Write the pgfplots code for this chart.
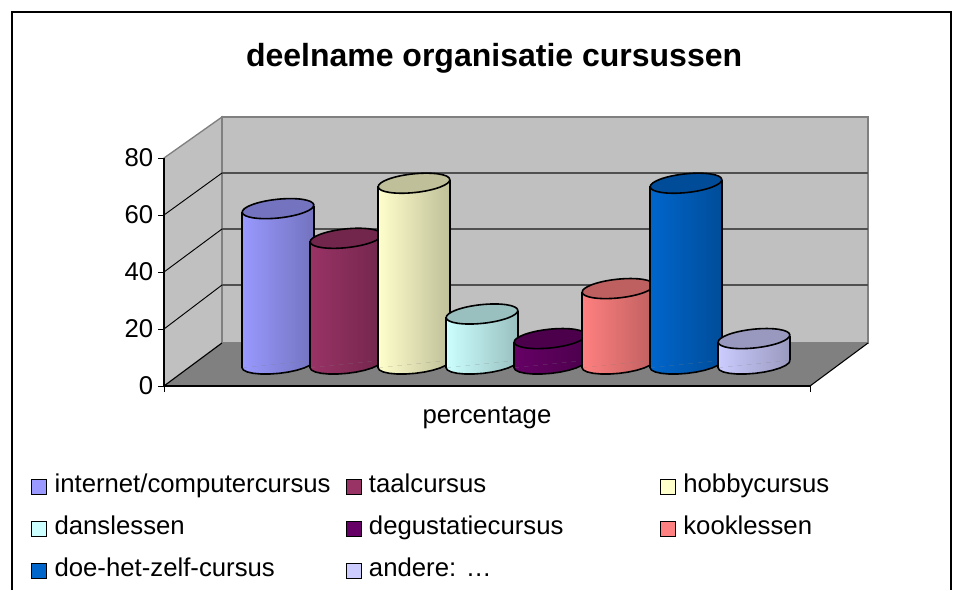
\documentclass[border=0pt]{standalone}
\usepackage{pgfplots}
\pgfplotsset{compat=1.18}
\usepackage{pgfplotstable}
\usepackage{fontspec}
\setmainfont{Liberation Sans}
\definecolor{c1}{HTML}{9999FF}
\definecolor{c2}{HTML}{993366}
\definecolor{c3}{HTML}{FFFFCC}
\definecolor{c4}{HTML}{CCFFFF}
\definecolor{c5}{HTML}{660066}
\definecolor{c6}{HTML}{FF8080}
\definecolor{c7}{HTML}{0066CC}
\definecolor{c8}{HTML}{CCCCFF}
\definecolor{wall}{HTML}{C0C0C0}
\definecolor{floorc}{HTML}{808080}
\definecolor{gridc}{HTML}{505050}
% lower rim of a cylinder: offset from its left edge, height on the y axis
\pgfplotstableread{
dx y
0 -0.278
1.48 -1.089
5.31 -1.754
11.24 -2.229
18.85 -2.476
27.63 -2.483
36.98 -2.25
46.27 -1.79
54.85 -1.135
62.15 -0.335
67.67 0.564
71.03 1.497
72 2.398
}\rimdata
\newcommand\cyl[7]{%
  \addplot[draw=none,left color=#7,right color=#7!75!black,forget plot]
    table[x expr=\thisrow{dx}+#1,y=y] {\rimdata} --cycle;
  \addplot[draw=none,left color=#7,right color=#7!75!black,forget plot]
    coordinates {(#1,-0.278)(#1,#4)(#2,#5)(#2,2.398)} --cycle;
  \addplot[black,line width=1.2pt,forget plot]
    table[x expr=\thisrow{dx}+#1,y=y] {\rimdata};
  \addplot[black,line width=1.2pt,forget plot] coordinates {(#1,-0.278)(#1,#4)};
  \addplot[black,line width=1.2pt,forget plot] coordinates {(#2,2.398)(#2,#5)};
  \addplot[only marks,mark=*,mark size=27pt,forget plot,
    mark options={rotate=6,yscale=.26,fill=#7!75!black,draw=black,line width=1.2pt}]
    coordinates {(#3,#6)};
}
\begin{document}
\begin{tikzpicture}[x=1pt,y=1pt]
\useasboundingbox (0,0) rectangle (722.25pt,442.5pt);
\fill[white] (0,0) rectangle (722.25pt,442.5pt);
% backdrop, in pixel coordinates of the picture
\begin{axis}[at={(0,0)},anchor=south west,scale only axis,width=722.25pt,height=442.5pt,
  hide axis,xmin=0,xmax=963,ymin=0,ymax=590,y dir=reverse]
\addplot[draw=floorc,line width=1pt,fill=wall] coordinates {(164,386)(222,343)(222,117)(164,158)} --cycle;
\addplot[draw=floorc,line width=1pt,fill=wall] coordinates {(222,343)(868,343)(868,117)(222,117)} --cycle;
\addplot[draw=none,fill=floorc] coordinates {(164,386)(222,343)(868,343)(810,386)} --cycle;
\addplot[black,line width=.8pt] coordinates {(810,386)(868,343)};
\addplot[black,line width=.8pt] coordinates {(164,386)(222,343)};
\addplot[gridc,line width=1pt] coordinates {(222,285)(868,285)};
\addplot[gridc,line width=1pt] coordinates {(222,229)(868,229)};
\addplot[gridc,line width=1pt] coordinates {(222,173)(868,173)};
\addplot[black,line width=.7pt] coordinates {(164,329)(222,285)};
\addplot[black,line width=.7pt] coordinates {(164,272)(222,229)};
\addplot[black,line width=.7pt] coordinates {(164,215)(222,173)};
\addplot[black,line width=1.6pt] coordinates {(12,590)(12,12)(951,12)(951,590)};
\end{axis}
% the cylinders: y is the percentage
\begin{axis}[at={(0,0)},anchor=south west,scale only axis,width=722.25pt,height=442.5pt,
  hide axis,xmin=0,xmax=963,ymin=-78.94,ymax=129.91,clip mode=individual,
  legend columns=3,
  legend style={at={(rel axis cs:0.0323,0.2015)},anchor=north west,draw=none,fill=none,
    inner sep=0pt,outer sep=0pt,font=\fontsize{19.3}{21}\selectfont,row sep=12pt,
    /tikz/every odd column/.append style={column sep=3.45pt},
    /tikz/every even column/.append style={column sep=0pt}},
  legend cell align=left,
  legend image code/.code={\draw[#1,draw=black,line width=.9pt] (0pt,-7.9pt) rectangle (11.25pt,3.3pt);}]
\cyl{242}{314}{278}{55}{57.1}{56.06}{c1}
\cyl{310}{382}{346}{44.5}{46.6}{45.56}{c2}
\cyl{378}{450}{414}{64}{66.1}{65.06}{c3}
\cyl{446}{518}{482}{17.7}{19.8}{18.76}{c4}
\cyl{514}{586}{550}{9}{11.1}{10.06}{c5}
\cyl{582}{654}{618}{26.7}{28.8}{27.76}{c6}
\cyl{650}{722}{686}{64}{66.1}{65.06}{c7}
\cyl{718}{790}{754}{9}{11.1}{10.06}{c8}
\addlegendimage{fill=c1}\addlegendentry{\makebox[216.2pt][l]{internet/computercursus}}
\addlegendimage{fill=c2}\addlegendentry{\makebox[216.2pt][l]{taalcursus}}
\addlegendimage{fill=c3}\addlegendentry{\makebox[216.2pt][l]{hobbycursus}}
\addlegendimage{fill=c4}\addlegendentry{\makebox[216.2pt][l]{danslessen}}
\addlegendimage{fill=c5}\addlegendentry{\makebox[216.2pt][l]{degustatiecursus}}
\addlegendimage{fill=c6}\addlegendentry{\makebox[216.2pt][l]{kooklessen}}
\addlegendimage{fill=c7}\addlegendentry{\makebox[216.2pt][l]{doe-het-zelf-cursus}}
\addlegendimage{fill=c8}\addlegendentry{\makebox[216.2pt][l]{andere: …}}
\end{axis}
% the front axis with its ticks, label and title
\begin{axis}[at={(123pt,153pt)},anchor=south west,scale only axis,width=484.5pt,height=171pt,
  xmin=0,xmax=1,ymin=0,ymax=80,ytick={0,20,40,60,80},xtick={0,1},xticklabels={,},
  axis x line=bottom,axis y line=left,axis line style={-,line width=.8pt,color=black},
  tick style={black,line width=.7pt},tick align=outside,major tick length=4.5pt,
  /pgf/number format/assume math mode=true,
  tick label style={font=\fontsize{19.3}{21}\selectfont},
  label style={font=\fontsize{19.3}{21}\selectfont},
  xlabel={percentage},xlabel style={at={(axis description cs:0.5,-0.138)},anchor=center},
  title={\textbf{deelname organisatie cursussen}},
  title style={at={(axis description cs:0.511,1.403)},anchor=center,font=\fontsize{24}{28}\selectfont}]
\end{axis}
\end{tikzpicture}
\end{document}
